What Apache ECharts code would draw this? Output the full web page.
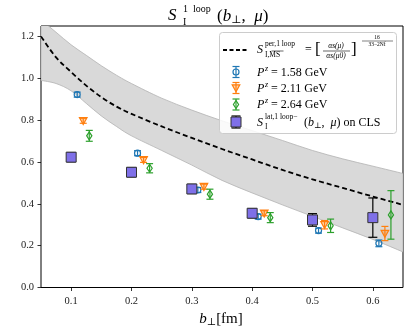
<!DOCTYPE html>
<html>
<head>
<meta charset="utf-8">
<script src="https://cdn.jsdelivr.net/npm/echarts@6/dist/echarts.min.js"></script>
<style>
  html, body { margin: 0; padding: 0; background: #fff; }
  #main { width: 415px; height: 332px; }
</style>
</head>
<body>
<div id="main"></div>
<script>
// perturbative curve + band
var bGrid = [0.05, 0.075, 0.1, 0.125, 0.15, 0.175, 0.2, 0.25, 0.3, 0.35, 0.4, 0.45, 0.5, 0.55, 0.6, 0.65];
var sPert = [1.20, 1.10, 1.03, 0.965, 0.91, 0.865, 0.83, 0.77, 0.715, 0.662, 0.612, 0.562, 0.517, 0.476, 0.435, 0.395];
var bandHi = [1.28, 1.22, 1.16, 1.11, 1.06, 1.015, 0.975, 0.905, 0.848, 0.797, 0.75, 0.703, 0.655, 0.615, 0.58, 0.545];
var bandLo = [0.99, 0.975, 0.94, 0.88, 0.82, 0.77, 0.725, 0.655, 0.585, 0.512, 0.452, 0.395, 0.34, 0.285, 0.23, 0.17];

// lattice (CLS)
var bLat = [0.1, 0.2, 0.3, 0.4, 0.5, 0.6];
var sLat = [0.623, 0.551, 0.471, 0.355, 0.323, 0.334];
var sLatErr = [0.022, 0.022, 0.022, 0.022, 0.03, 0.094];

// P^z = 1.58 GeV
var b158 = [0.11, 0.21, 0.31, 0.41, 0.51, 0.61];
var s158 = [0.922, 0.642, 0.466, 0.339, 0.272, 0.211];
var e158 = [0.012, 0.012, 0.012, 0.012, 0.012, 0.016];

// P^z = 2.11 GeV
var b211 = [0.12, 0.22, 0.32, 0.42, 0.52, 0.62];
var s211 = [0.797, 0.610, 0.482, 0.355, 0.300, 0.258];
var e211 = [0.012, 0.012, 0.012, 0.012, 0.02, 0.034];

// P^z = 2.64 GeV
var b264 = [0.13, 0.23, 0.33, 0.43, 0.53, 0.63];
var s264 = [0.725, 0.570, 0.446, 0.334, 0.295, 0.347];
var e264 = [0.026, 0.022, 0.024, 0.024, 0.032, 0.116];

var xTicks = [0.1, 0.2, 0.3, 0.4, 0.5, 0.6];
var yTicks = [0, 0.2, 0.4, 0.6, 0.8, 1.0, 1.2];

var BLUE = '#1f77b4', ORANGE = '#ff7f0e', GREEN = '#2ca02c', PURPLE = '#7f70e8';
var SERIF = '"Liberation Serif", "DejaVu Serif", serif';

function zip3(a, b, c) {
  return a.map(function (v, i) { return [v, b[i], c[i]]; });
}

// catmull-rom through pixel points -> svg path segments
function crPath(pts, start) {
  var d = start + pts[0][0] + ' ' + pts[0][1];
  for (var i = 0; i < pts.length - 1; i++) {
    var p0 = pts[Math.max(i - 1, 0)], p1 = pts[i], p2 = pts[i + 1], p3 = pts[Math.min(i + 2, pts.length - 1)];
    d += ' C' + [p1[0] + (p2[0] - p0[0]) / 6, p1[1] + (p2[1] - p0[1]) / 6,
      p2[0] - (p3[0] - p1[0]) / 6, p2[1] - (p3[1] - p1[1]) / 6, p2[0], p2[1]].join(' ');
  }
  return d;
}

function markerShape(kind, cx, cy, color) {
  var m;
  if (kind === 'circle') {
    m = { type: 'circle', shape: { cx: cx, cy: cy, r: 3 },
      style: { fill: 'rgba(255,255,255,0)', stroke: color, lineWidth: 1.2 } };
  } else if (kind === 'tri') {
    m = { type: 'polygon', shape: { points: [[cx - 3.8, cy - 3.2], [cx + 3.8, cy - 3.2], [cx, cy + 3.8]] },
      style: { fill: 'rgba(255,127,14,0.35)', stroke: color, lineWidth: 1.2 } };
  } else if (kind === 'diamond') {
    m = { type: 'polygon', shape: { points: [[cx, cy - 4], [cx + 2.6, cy], [cx, cy + 4], [cx - 2.6, cy]] },
      style: { fill: 'rgba(255,255,255,0)', stroke: color, lineWidth: 1.2 } };
  } else {
    m = { type: 'rect', shape: { x: cx - 5, y: cy - 5, width: 10, height: 10 },
      style: { fill: PURPLE, stroke: '#333', lineWidth: 1 } };
  }
  return m;
}

function errBar(cx, yTop, yBot, color, cw) {
  var st = { stroke: color, lineWidth: 1.2 };
  return [
    { type: 'line', shape: { x1: cx, y1: yTop, x2: cx, y2: yBot }, style: st },
    { type: 'line', shape: { x1: cx - cw, y1: yTop, x2: cx + cw, y2: yTop }, style: st },
    { type: 'line', shape: { x1: cx - cw, y1: yBot, x2: cx + cw, y2: yBot }, style: st }
  ];
}

function errSeries(name, data, kind, color, barColor, cw) {
  return {
    name: name,
    type: 'custom',
    data: data,
    z: kind === 'square' ? 5 : 4,
    renderItem: function (params, api) {
      var x = api.value(0), y = api.value(1), e = api.value(2);
      var c = api.coord([x, y]);
      var t = api.coord([x, y + e]);
      var b = api.coord([x, y - e]);
      var kids = errBar(c[0], t[1], b[1], barColor, cw);
      kids.push(markerShape(kind, c[0], c[1], color));
      return { type: 'group', children: kids };
    }
  };
}

// legend, drawn by hand because of the math text
var LX = 236, TX = 257;
function txt(x, y, s, size, italic, extra) {
  var o = { type: 'text', x: x, y: y, z: 100,
    style: { text: s, font: (italic ? 'italic ' : '') + size + 'px ' + SERIF, fill: '#000',
      verticalAlign: 'middle', align: 'left' } };
  if (extra) for (var k in extra) o.style[k] = extra[k];
  return o;
}
function gline(x1, y1, x2, y2, w, dash) {
  return { type: 'line', z: 100, shape: { x1: x1, y1: y1, x2: x2, y2: y2 },
    style: { stroke: '#000', lineWidth: w, lineDash: dash || null } };
}
function legendMarker(kind, cx, cy, color, barColor, e, cw) {
  var g = errBar(cx, cy - e, cy + e, barColor, cw);
  g.push(markerShape(kind, cx, cy, color));
  g.forEach(function (el) { el.z = 101; });
  return g;
}

var rows = [72, 88, 104.5];
var legendGraphics = [
  { type: 'rect', z: 99, shape: { x: 219.5, y: 32.5, width: 177, height: 101, r: 3 },
    style: { fill: 'rgba(255,255,255,0.85)', stroke: '#cccccc', lineWidth: 1 } },
  gline(223, 50, 248, 50, 1.8, [4, 2.5]),
  txt(TX, 50, 'S', 12, true),
  txt(265, 44.5, 'per,1 loop', 7.5, false),
  txt(265, 55, 'I,MS', 7.5, false),
  gline(271.5, 51, 283.5, 51, 0.6),
  txt(305, 50, '=', 12, false),
  txt(315, 50, '[', 17, false),
  txt(336, 46, 'αs(μ)', 7.5, true, { align: 'center' }),
  gline(323, 51, 350, 51, 0.6),
  txt(336, 56.5, 'αs(μ0)', 7.5, true, { align: 'center' }),
  txt(351, 50, ']', 17, false),
  txt(377, 38, '16', 5.5, false, { align: 'center' }),
  gline(362, 41, 393, 41, 0.5),
  txt(377, 44.5, '33−2Nf', 5.5, false, { align: 'center' }),

  txt(TX, 72.5, 'P', 12, true), txt(265, 68.5, 'z', 8, true), txt(271, 72.5, '= 1.58 GeV', 12, false),
  txt(TX, 88.5, 'P', 12, true), txt(265, 84.5, 'z', 8, true), txt(271, 88.5, '= 2.11 GeV', 12, false),
  txt(TX, 105, 'P', 12, true), txt(265, 101, 'z', 8, true), txt(271, 105, '= 2.64 GeV', 12, false),

  txt(TX, 122.5, 'S', 12, true),
  txt(265, 117, 'lat,1 loop−', 7.5, false),
  txt(265, 127, 'I', 7.5, false),
  {
    type: 'text', x: 304, y: 122.5, z: 100,
    style: {
      text: '{n|(}{i|b}{s|⊥}{n|,  }{i|μ}{n|) on CLS}',
      verticalAlign: 'middle',
      rich: {
        n: { font: '12px ' + SERIF, fill: '#000' },
        i: { font: 'italic 12px ' + SERIF, fill: '#000' },
        s: { font: '8px ' + SERIF, fill: '#000', padding: [6, 0, 0, 0] }
      }
    }
  }
].concat(
  legendMarker('circle', LX, rows[0], BLUE, BLUE, 5.5, 3.5),
  legendMarker('tri', LX, rows[1], ORANGE, ORANGE, 5.5, 3.5),
  legendMarker('diamond', LX, rows[2], GREEN, GREEN, 5.5, 3.5),
  legendMarker('square', LX, 122, PURPLE, '#000', 6, 4.5)
);

var titleGraphics = [
  txt(168, 16, 'S', 17, true),
  txt(183, 9, '1  loop', 10, false),
  txt(183, 22.5, 'I', 10, false),
  {
    type: 'text', x: 217, y: 16.5, z: 100,
    style: {
      text: '{n|(}{i|b}{s|⊥}{n|,  }{i|μ}{n|)}',
      verticalAlign: 'middle',
      rich: {
        n: { font: '17px ' + SERIF, fill: '#000' },
        i: { font: 'italic 17px ' + SERIF, fill: '#000' },
        s: { font: '11px ' + SERIF, fill: '#000', padding: [8, 0, 0, 0] }
      }
    }
  },
  {
    type: 'text', x: 221, y: 319, z: 100,
    style: {
      text: '{i|b}{s|⊥}{n|[fm]}',
      align: 'center', verticalAlign: 'middle',
      rich: {
        n: { font: '15px ' + SERIF, fill: '#000' },
        i: { font: 'italic 15px ' + SERIF, fill: '#000' },
        s: { font: '10px ' + SERIF, fill: '#000', padding: [7, 0, 0, 0] }
      }
    }
  }
];

var chart = echarts.init(document.getElementById('main'), null, { renderer: 'canvas' });

chart.setOption({
  animation: false,
  backgroundColor: '#fff',
  grid: { left: 41, right: 12, top: 26, bottom: 44.5, show: true, borderColor: '#000', borderWidth: 1, backgroundColor: 'transparent' },
  xAxis: {
    type: 'value', min: 0.05, max: 0.65,
    axisLine: { show: false },
    splitLine: { show: false },
    axisTick: { show: true, inside: false, length: 3.5, customValues: xTicks, lineStyle: { color: '#000', width: 0.8 } },
    axisLabel: { customValues: xTicks, margin: 8, color: '#222', fontFamily: SERIF, fontSize: 10.5,
      formatter: function (v) { return v.toFixed(1); } }
  },
  yAxis: {
    type: 'value', min: 0, max: 1.25,
    axisLine: { show: false },
    splitLine: { show: false },
    axisTick: { show: true, inside: false, length: 3.5, customValues: yTicks, lineStyle: { color: '#000', width: 0.8 } },
    axisLabel: { customValues: yTicks, margin: 7, color: '#222', fontFamily: SERIF, fontSize: 10.5,
      formatter: function (v) { return v.toFixed(1); } }
  },
  graphic: legendGraphics.concat(titleGraphics),
  series: [
    {
      name: 'band', type: 'custom', data: [0], clip: true, silent: true, z: 1,
      renderItem: function (params, api) {
        var hi = bGrid.map(function (b, i) { return api.coord([b, bandHi[i]]); });
        var lo = bGrid.map(function (b, i) { return api.coord([b, bandLo[i]]); }).reverse();
        var d = crPath(hi, 'M') + ' ' + crPath(lo, 'L') + ' Z';
        return { type: 'path', shape: { pathData: d },
          style: { fill: '#d9d9d9', stroke: '#b3b3b3', lineWidth: 0.8 } };
      }
    },
    {
      name: 'pert', type: 'custom', data: [0], clip: true, silent: true, z: 3,
      renderItem: function (params, api) {
        var pts = bGrid.map(function (b, i) { return api.coord([b, sPert[i]]); });
        return { type: 'path', shape: { pathData: crPath(pts, 'M') },
          style: { fill: null, stroke: '#000', lineWidth: 1.8, lineDash: [5, 3] } };
      }
    },
    errSeries('P158', zip3(b158, s158, e158), 'circle', BLUE, BLUE, 3.5),
    errSeries('P211', zip3(b211, s211, e211), 'tri', ORANGE, ORANGE, 3.5),
    errSeries('P264', zip3(b264, s264, e264), 'diamond', GREEN, GREEN, 3.5),
    errSeries('CLS', zip3(bLat, sLat, sLatErr), 'square', PURPLE, '#000', 4.5)
  ]
});
</script>
</body>
</html>
